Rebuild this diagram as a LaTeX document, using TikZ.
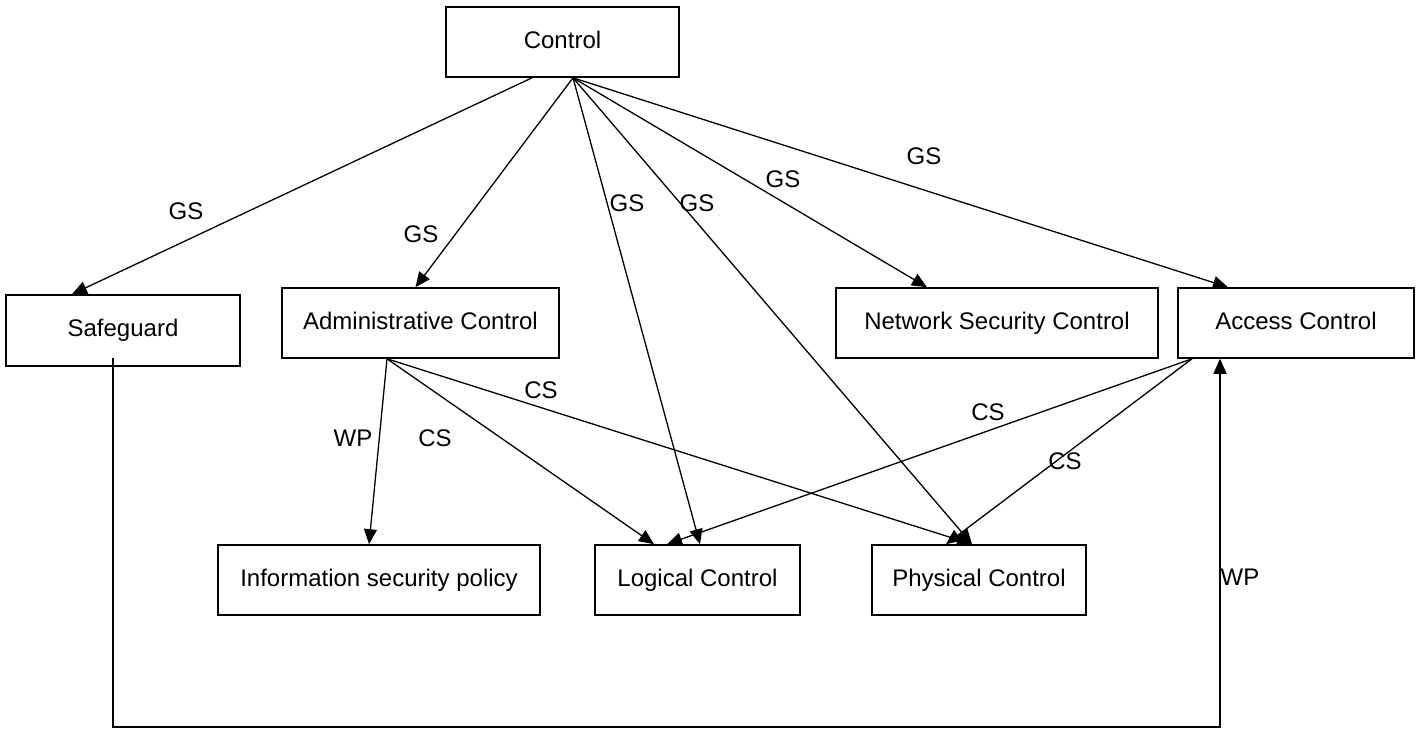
\documentclass[tikz,border=0pt]{standalone}
\usepackage{fontspec}
\setmainfont{Liberation Sans}
\usetikzlibrary{arrows.meta}

\tikzset{
  box/.style={draw, line width=1.6pt, rectangle, inner sep=0pt, align=center,
    text height=17pt, text depth=5pt},
  wire/.style={line width=1.3pt, -{Triangle[length=15pt,width=13pt]}},
  lbl/.style={inner sep=0pt}
}

\begin{document}
\begin{tikzpicture}[x=1pt,y=-1pt,font=\fontsize{24}{28}\selectfont]
\useasboundingbox (0,0) rectangle (1419,731);

% boxes
\node[box, minimum width=233pt, minimum height=70pt] (ctl) at (562.5,42) {Control};
\node[box, minimum width=234pt, minimum height=71pt] (sg)  at (123,330.5) {Safeguard};
\node[box, minimum width=277pt, minimum height=70pt] (adm) at (420.5,323) {Administrative Control};
\node[box, minimum width=322pt, minimum height=70pt] (net) at (997,323) {Network Security Control};
\node[box, minimum width=236pt, minimum height=70pt] (acc) at (1296,323) {Access Control};
\node[box, minimum width=322pt, minimum height=70pt] (isp) at (379,580) {Information security policy};
\node[box, minimum width=205pt, minimum height=70pt] (log) at (697.5,580) {Logical Control};
\node[box, minimum width=214pt, minimum height=70pt] (phy) at (979,580) {Physical Control};

% generalisation links from Control
\draw[wire] ([xshift=-30.5pt]ctl.south) -- ([xshift=-51pt]sg.north);
\draw[wire] ([xshift=10.5pt]ctl.south) -- ([xshift=-5pt]adm.north);
\draw[wire] ([xshift=10.5pt]ctl.south) -- ([xshift=2.5pt]log.north);
\draw[wire] ([xshift=10.5pt]ctl.south) -- ([xshift=-7pt]phy.north);
\draw[wire] ([xshift=10.5pt]ctl.south) -- ([xshift=-70pt]net.north);
\draw[wire] ([xshift=10.5pt]ctl.south) -- ([xshift=-68pt]acc.north);

% links from Administrative Control
\draw[wire] ([xshift=-33.5pt]adm.south) -- ([xshift=-10pt]isp.north);
\draw[wire] ([xshift=-33.5pt]adm.south) -- ([xshift=-43.5pt]log.north);
\draw[wire] ([xshift=-33.5pt]adm.south) -- ([xshift=-7pt]phy.north);

% links from Access Control
\draw[wire] ([xshift=-104pt]acc.south) -- ([xshift=-30.5pt]log.north);
\draw[wire] ([xshift=-104pt]acc.south) -- ([xshift=-33pt]phy.north);

% Safeguard to Access Control along the bottom
\coordinate (bl) at (113,727);
\draw[wire] ([xshift=-10pt,yshift=9pt]sg.south) -- (bl) -| ([xshift=-76pt]acc.south);

% link labels
\node[lbl] (g1) at (186,211) {GS};
\node[lbl] (g2) at (421,234) {GS};
\node[lbl] (g3) at (627,203) {GS};
\node[lbl] (g4) at (697,203) {GS};
\node[lbl] (g5) at (783,179) {GS};
\node[lbl] (g6) at (924,156) {GS};
\node[lbl] (w1) at (353,438) {WP};
\node[lbl] (c1) at (435,438) {CS};
\node[lbl] (c2) at (541,390) {CS};
\node[lbl] (c3) at (988,412) {CS};
\node[lbl] (c4) at (1065,461) {CS};
\node[lbl] (w2) at (1240,577) {WP};
\end{tikzpicture}
\end{document}
